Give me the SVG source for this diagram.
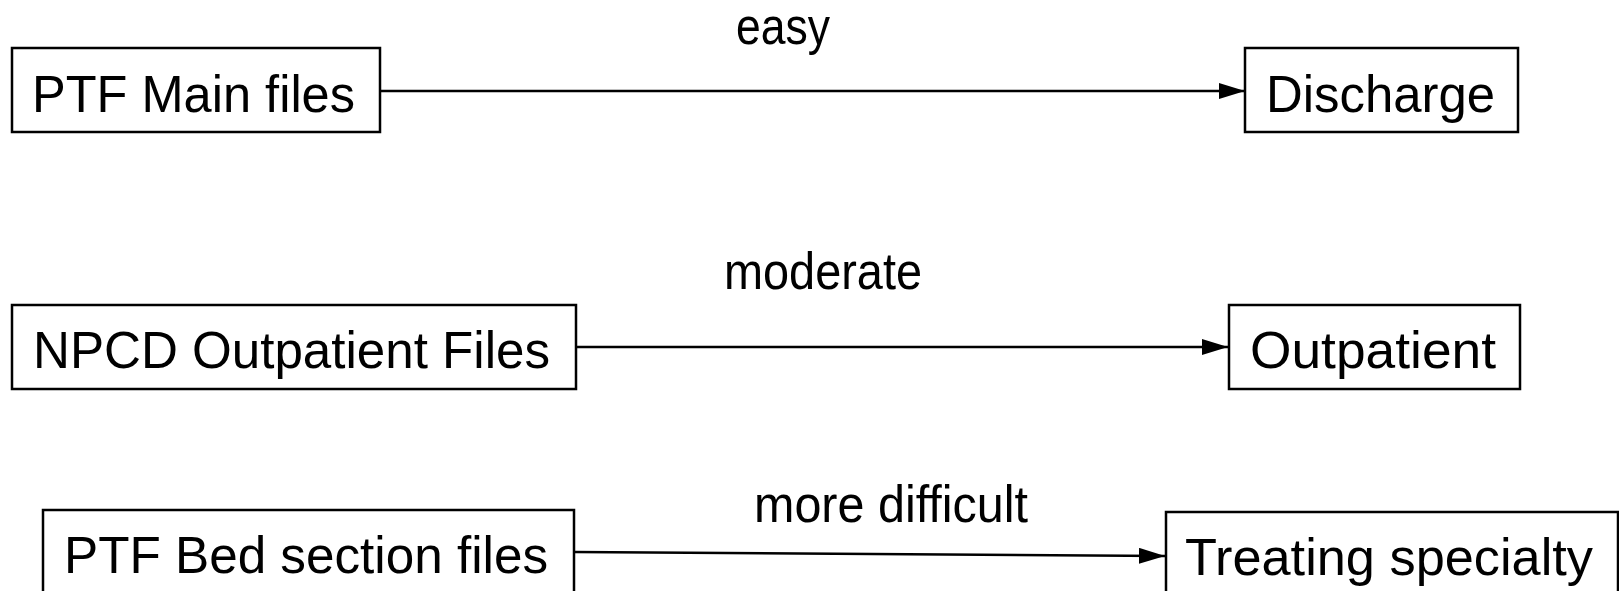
<svg xmlns="http://www.w3.org/2000/svg" width="1619" height="591" viewBox="0 0 1619 591">
<style>
rect.n{fill:#fff;stroke:#000;stroke-width:2.5}
text{font-family:"Liberation Sans",Arial,sans-serif;font-size:52px;fill:#000}
.c line{stroke:#000;stroke-width:2.5}
</style>
<defs>
<marker id="ah" markerUnits="userSpaceOnUse" markerWidth="28" markerHeight="18" refX="26" refY="8" orient="auto">
<path d="M0,0 L26,8 L0,16 Z" fill="#000"/>
</marker>
</defs>
<rect width="1619" height="591" fill="#fff"/>
<g class="c" id="connectors">
<line x1="380" y1="91" x2="1245" y2="91" marker-end="url(#ah)"/>
<line x1="576" y1="347" x2="1228" y2="347" marker-end="url(#ah)"/>
<line x1="574" y1="552" x2="1165" y2="556" marker-end="url(#ah)"/>
<text x="783" y="44" text-anchor="middle" textLength="94" lengthAdjust="spacingAndGlyphs">easy</text>
<text x="823" y="289" text-anchor="middle" textLength="198" lengthAdjust="spacingAndGlyphs">moderate</text>
<text x="891" y="522" text-anchor="middle" textLength="274" lengthAdjust="spacingAndGlyphs">more difficult</text>
</g>
<g id="ptf-main"><rect class="n" x="12" y="48" width="368" height="84"/><text x="32" y="112" textLength="323" lengthAdjust="spacingAndGlyphs">PTF Main files</text></g>
<g id="discharge"><rect class="n" x="1245" y="48" width="273" height="84"/><text x="1266" y="112" textLength="229" lengthAdjust="spacingAndGlyphs">Discharge</text></g>
<g id="npcd"><rect class="n" x="12" y="305" width="564" height="84"/><text x="33" y="368" textLength="517" lengthAdjust="spacingAndGlyphs">NPCD Outpatient Files</text></g>
<g id="outpatient"><rect class="n" x="1229" y="305" width="291" height="84"/><text x="1250" y="368" textLength="246" lengthAdjust="spacingAndGlyphs">Outpatient</text></g>
<g id="ptf-bed"><rect class="n" x="43" y="510" width="531" height="84"/><text x="64" y="573" textLength="484" lengthAdjust="spacingAndGlyphs">PTF Bed section files</text></g>
<g id="treating"><rect class="n" x="1166" y="512" width="452" height="84"/><text x="1185" y="575" textLength="408" lengthAdjust="spacingAndGlyphs">Treating specialty</text></g>
</svg>
